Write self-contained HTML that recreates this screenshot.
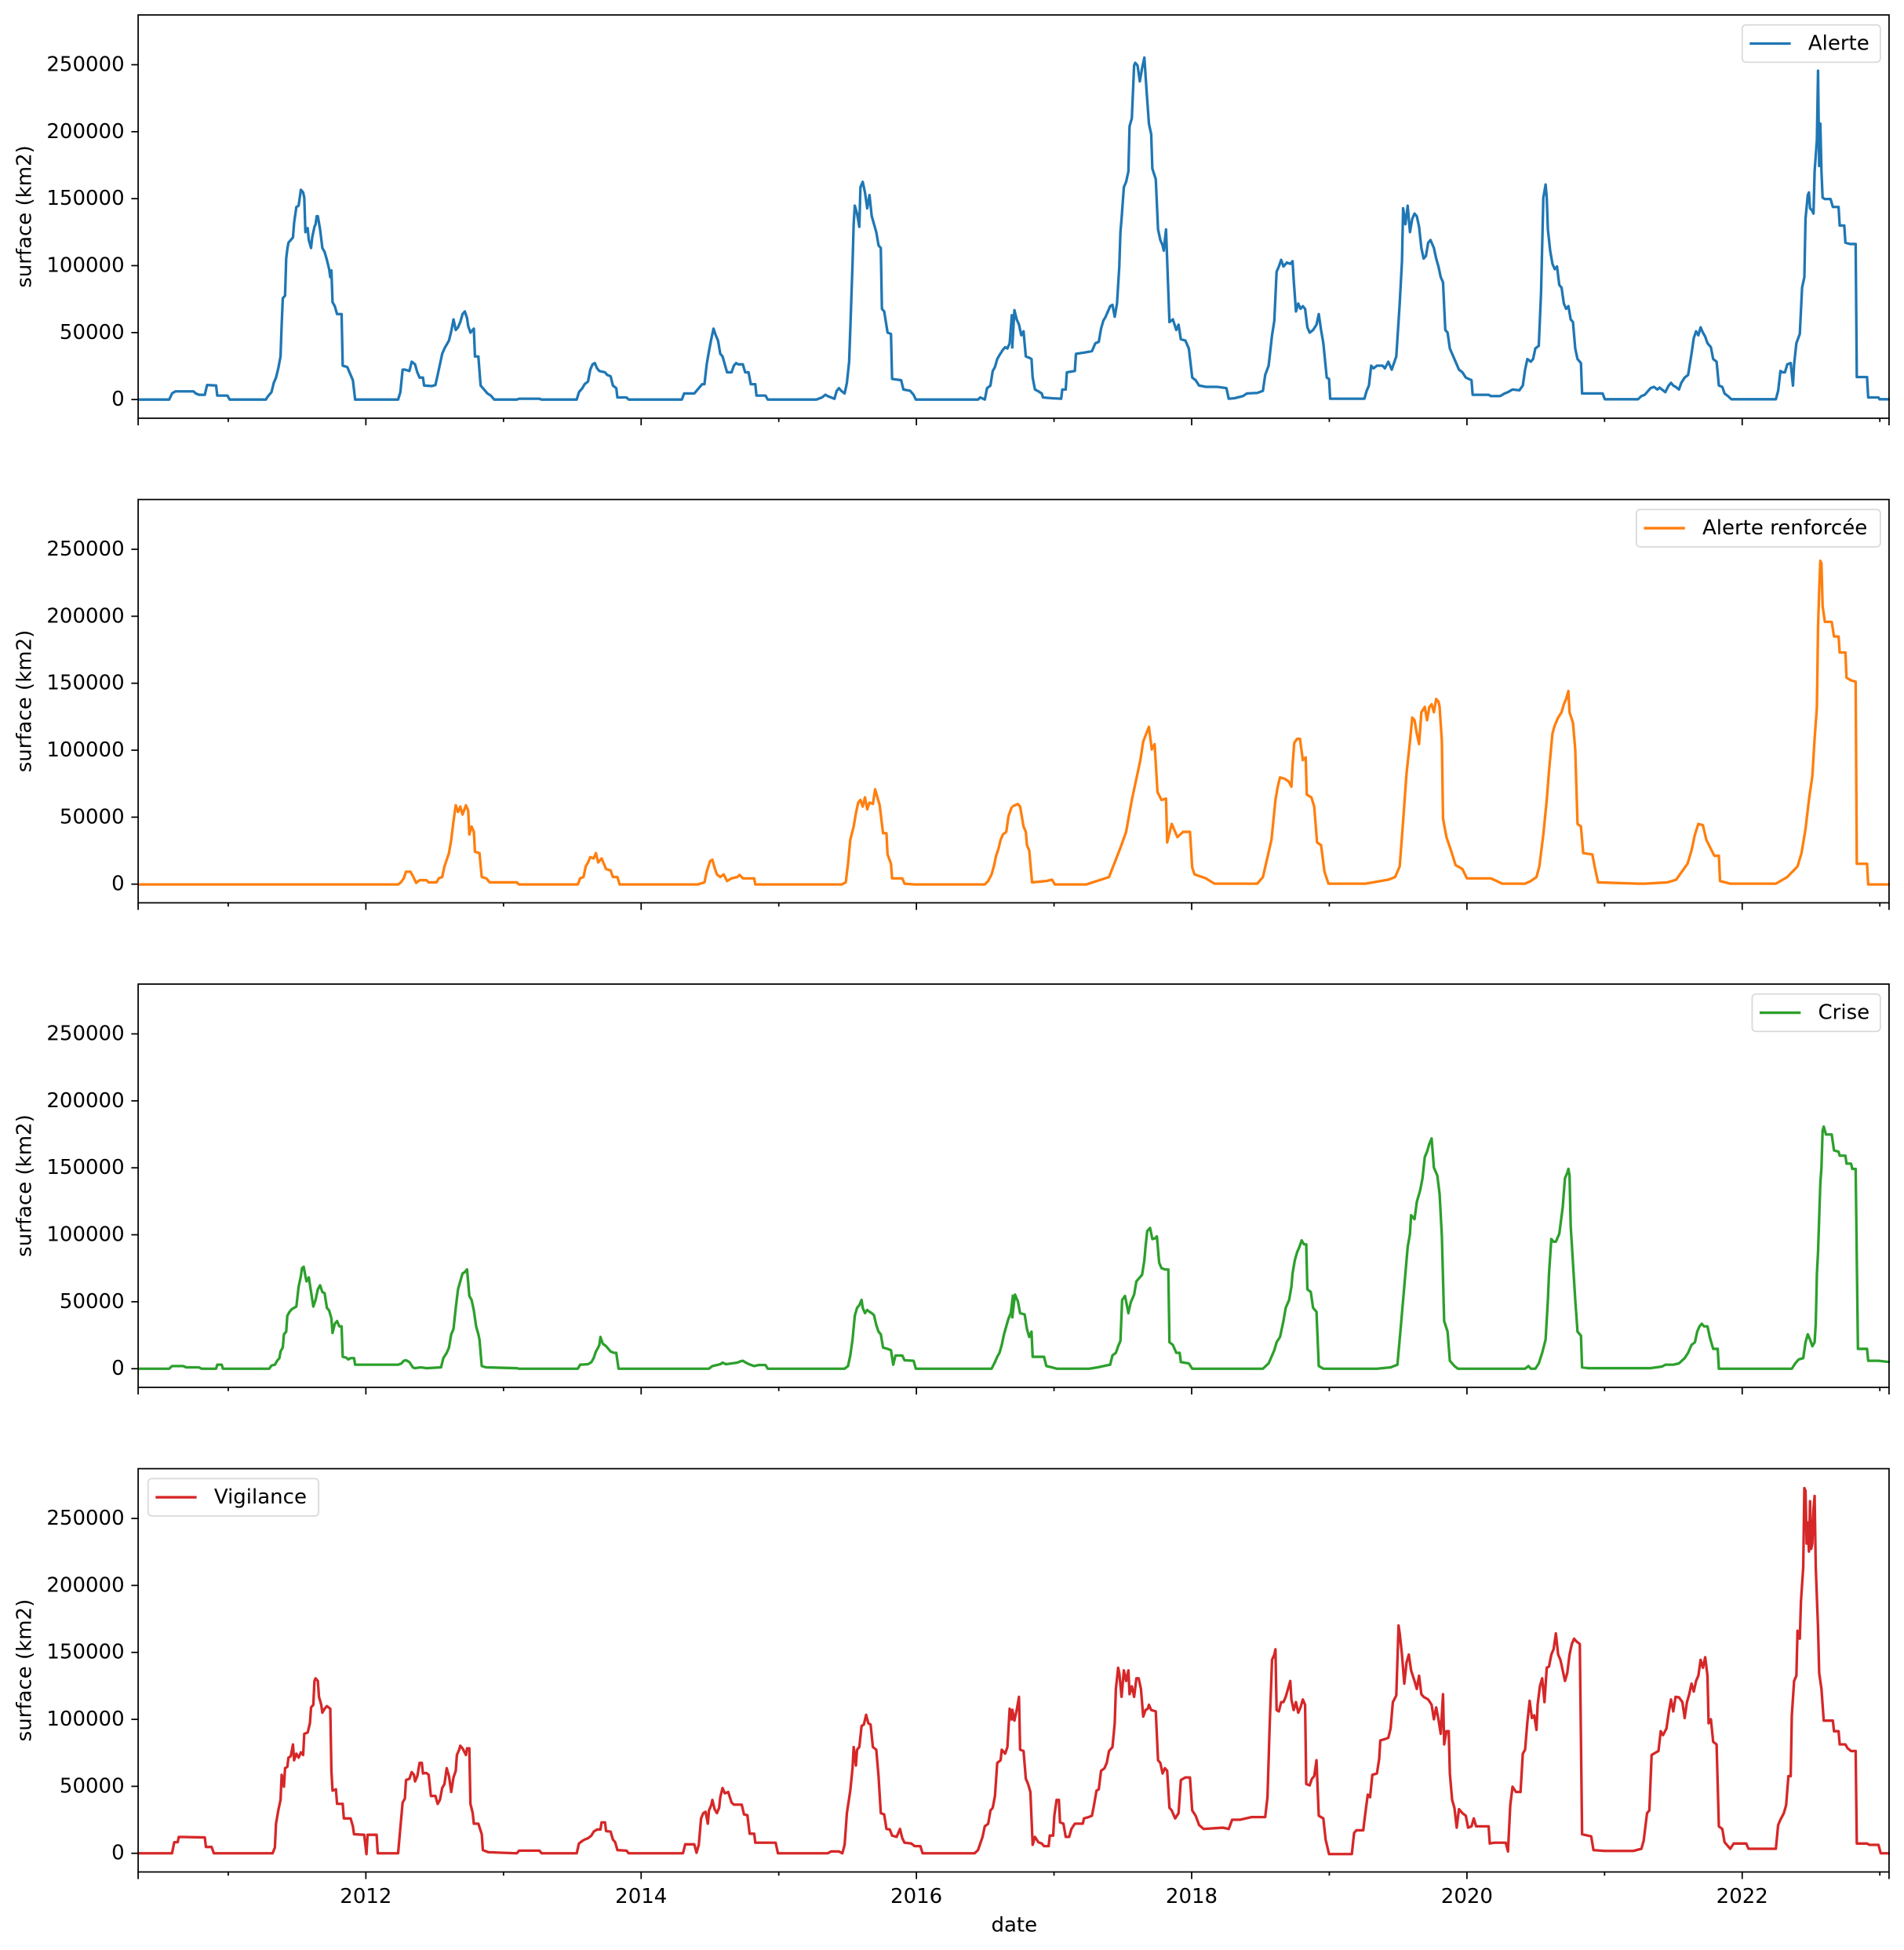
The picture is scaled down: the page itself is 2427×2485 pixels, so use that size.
<!DOCTYPE html>
<html><head><meta charset="utf-8"><style>
html,body{margin:0;padding:0;background:#fff;}
svg{display:block;}
text{font-family:"DejaVu Sans","Liberation Sans",sans-serif;font-size:16.4px;fill:#000;}
.s{fill:none;stroke-width:3.3;stroke-linejoin:round;vector-effect:non-scaling-stroke;}
.ax{fill:none;stroke:#000;stroke-width:1.1;}
.tk{stroke:#000;stroke-width:1.1;}
.lg{fill:#fff;fill-opacity:0.8;stroke:#d9d9d9;stroke-width:1.1;}
</style></head><body>
<svg width="2427" height="2485" viewBox="0 0 1530 1566.6" xmlns="http://www.w3.org/2000/svg">
<defs>
<g id="yax">
<line class="tk" x1="105.5" y1="321" x2="111" y2="321"/>
<line class="tk" x1="105.5" y1="267.2" x2="111" y2="267.2"/>
<line class="tk" x1="105.5" y1="213.4" x2="111" y2="213.4"/>
<line class="tk" x1="105.5" y1="159.6" x2="111" y2="159.6"/>
<line class="tk" x1="105.5" y1="105.8" x2="111" y2="105.8"/>
<line class="tk" x1="105.5" y1="52" x2="111" y2="52"/>
<g text-anchor="end" dominant-baseline="central">
<text x="100" y="321">0</text>
<text x="100" y="267.2">50000</text>
<text x="100" y="213.4">100000</text>
<text x="100" y="159.6">150000</text>
<text x="100" y="105.8">200000</text>
<text x="100" y="52">250000</text>
</g>
<text transform="translate(25,174) rotate(-90)" text-anchor="middle">surface (km2)</text>
<g>
<line class="tk" x1="111" y1="336" x2="111" y2="341.7"/>
<line class="tk" x1="294" y1="336" x2="294" y2="341.7"/>
<line class="tk" x1="515.2" y1="336" x2="515.2" y2="341.7"/>
<line class="tk" x1="736.4" y1="336" x2="736.4" y2="341.7"/>
<line class="tk" x1="957.6" y1="336" x2="957.6" y2="341.7"/>
<line class="tk" x1="1178.8" y1="336" x2="1178.8" y2="341.7"/>
<line class="tk" x1="1400" y1="336" x2="1400" y2="341.7"/>
<line class="tk" x1="183.4" y1="336" x2="183.4" y2="339"/>
<line class="tk" x1="404.6" y1="336" x2="404.6" y2="339"/>
<line class="tk" x1="625.8" y1="336" x2="625.8" y2="339"/>
<line class="tk" x1="847" y1="336" x2="847" y2="339"/>
<line class="tk" x1="1068.2" y1="336" x2="1068.2" y2="339"/>
<line class="tk" x1="1289.4" y1="336" x2="1289.4" y2="339"/>
<line class="tk" x1="1510.6" y1="336" x2="1510.6" y2="339"/>
<line class="tk" x1="1518" y1="336" x2="1518" y2="341.7"/>
</g>
</g>
</defs>

<!-- Panel 1 -->
<g transform="translate(0,0)">
<polyline class="s" stroke="#1f77b4" transform="matrix(0.4542 0 0 0.2125 106.42 10.1)" points="10,1463 65,1463 70,1440 76,1432 108,1432 112,1440 118,1445 128,1445 132,1408 148,1410 150,1448 168,1448 172,1463 236,1463 240,1450 246,1435 250,1400 254,1380 258,1345 262,1300 264,1180 266,1080 270,1070 272,930 274,895 276,870 280,860 284,850 286,795 290,735 294,730 296,700 298,670 302,680 304,700 306,830 310,815 312,860 316,890 318,850 322,810 324,800 326,770 328,770 332,820 336,890 340,905 344,935 348,970 350,1000 352,975 354,1095 358,1110 362,1140 370,1140 372,1335 380,1340 384,1360 390,1390 394,1463 470,1463 474,1435 478,1350 482,1350 490,1355 494,1320 500,1330 504,1360 508,1380 514,1380 516,1410 530,1412 536,1408 540,1370 544,1330 548,1290 552,1270 556,1255 560,1240 564,1205 568,1160 572,1200 576,1190 580,1170 584,1140 588,1130 592,1155 594,1185 598,1210 604,1195 606,1300 612,1300 616,1410 622,1425 628,1440 634,1448 640,1463 680,1463 684,1460 720,1460 724,1463 786,1463 790,1435 796,1420 800,1405 806,1395 810,1350 814,1330 818,1325 822,1345 826,1355 836,1360 840,1370 846,1375 850,1410 856,1420 858,1455 874,1455 878,1463 972,1463 976,1440 994,1440 1000,1425 1004,1415 1008,1405 1012,1405 1016,1330 1020,1280 1024,1235 1028,1195 1032,1220 1036,1240 1040,1290 1044,1300 1048,1330 1052,1360 1060,1360 1064,1335 1068,1325 1072,1330 1080,1330 1084,1360 1090,1360 1094,1405 1102,1405 1104,1448 1120,1448 1124,1463 1210,1463 1220,1455 1226,1445 1230,1450 1236,1455 1242,1460 1246,1430 1250,1420 1254,1430 1260,1440 1264,1400 1268,1320 1270,1200 1274,950 1276,800 1278,730 1282,760 1286,810 1288,660 1292,640 1296,680 1300,740 1304,690 1308,770 1312,800 1316,830 1320,880 1324,890 1326,1120 1330,1130 1336,1210 1342,1215 1344,1385 1360,1390 1364,1425 1376,1430 1382,1445 1386,1463 1496,1463 1500,1455 1508,1463 1512,1420 1518,1410 1522,1355 1526,1340 1530,1310 1534,1295 1540,1275 1544,1265 1548,1270 1552,1250 1556,1140"/>
<polyline class="s" stroke="#1f77b4" transform="matrix(0.458 0 0 0.2125 813.33 10.1)" points="0,1270 4,1125 8,1160 12,1180 16,1220 20,1205 24,1300 30,1305 34,1310 36,1380 40,1425 46,1432 52,1440 54,1455 70,1458 86,1460 88,1425 94,1425 96,1360 110,1355 112,1290 128,1285 140,1280 146,1250 152,1245 156,1195 160,1165 164,1150 168,1130 172,1110 176,1105 180,1150 184,1100 188,960 190,830 192,780 196,660 200,640 204,600 206,430 210,400 212,300 214,200 216,190 220,200 224,260 228,210 232,170 236,300 240,420 244,460 246,590 252,630 256,820 260,860 264,880 266,900 270,820 276,1170 282,1160 288,1200 292,1180 296,1235 304,1240 310,1270 316,1380 322,1390 328,1410 340,1415 360,1415 376,1420 380,1460 390,1458 405,1450 412,1440 430,1438 440,1430 444,1370 450,1335 456,1220 460,1165 464,980 468,960 472,935 476,960 482,945 488,950 492,940 494,1010 498,1130 502,1100 506,1120 510,1110 514,1120 518,1190 522,1210 528,1200 534,1180 538,1140 542,1200 546,1250 552,1380 556,1385 558,1460 618,1460 622,1430 626,1410 630,1335 634,1345 640,1335 650,1335 654,1345 660,1320 666,1350 670,1325 674,1300 680,1100 684,940 686,740 690,800 694,730 698,830 702,780 706,760 710,770 714,810 718,890 722,930 726,920 730,870 734,860 740,890 744,930 748,960 752,1000 756,1020 760,1200 764,1210 768,1270 772,1290 776,1310 780,1330 784,1350 790,1360 796,1380 806,1390 808,1445 836,1445 840,1450 856,1450 864,1440 870,1435 878,1425 890,1428 896,1410 900,1350 904,1310 910,1320 914,1310 918,1270 924,1260 928,1060 932,700 936,650 938,700 940,820 944,900 948,950 952,970 956,960 960,1030 964,1040 968,1100 972,1120 976,1110 980,1160 984,1170 988,1270 992,1310 998,1325 1000,1440 1036,1440 1040,1462 1098,1462 1104,1450 1110,1445 1120,1420 1126,1415 1132,1425 1136,1418 1140,1425 1146,1435 1152,1410 1156,1400 1160,1410 1164,1415 1170,1425 1174,1400 1180,1380 1186,1370 1192,1290 1196,1230 1200,1205 1204,1220 1208,1190 1212,1210 1216,1225 1220,1250 1226,1265 1230,1310 1236,1320 1240,1410 1246,1415 1250,1440 1256,1450 1262,1462 1340,1462 1344,1430 1348,1355 1352,1360 1356,1360 1360,1330 1366,1325 1370,1410 1372,1330 1376,1250 1382,1215 1386,1040 1390,1000 1392,780 1396,690 1398,680 1400,740 1404,750 1406,760 1408,600 1412,480 1414,220 1416,580 1418,420 1420,600 1422,700 1426,705 1436,705 1440,735 1450,735 1452,805 1460,805 1462,870 1470,875 1480,875 1482,1378 1500,1378 1502,1455 1520,1455 1522,1462 1540,1462"/>
<rect class="ax" x="111" y="12" width="1407" height="324"/>
<use href="#yax"/>
<rect class="lg" x="1400" y="20" width="111" height="30" rx="3"/>
<line x1="1406" y1="35" x2="1439" y2="35" stroke="#1f77b4" stroke-width="2.1"/>
<text x="1453" y="35" dominant-baseline="central">Alerte</text>
</g>

<!-- Panel 2 -->
<g transform="translate(0,389.3)">
<polyline class="s" stroke="#ff7f0e" transform="matrix(0.4542 0 0 0.2135 106.42 7.85)" points="10,1468 470,1468 475,1460 480,1445 484,1420 492,1420 497,1440 502,1462 508,1452 520,1452 524,1460 538,1460 542,1445 548,1440 552,1400 556,1375 560,1350 564,1300 568,1230 572,1170 576,1195 580,1175 584,1205 590,1170 594,1190 596,1280 600,1250 604,1270 606,1345 614,1350 618,1440 626,1445 632,1460 680,1460 684,1468 788,1468 792,1445 798,1440 802,1400 806,1385 810,1365 816,1370 820,1350 824,1385 830,1370 838,1410 846,1415 850,1440 858,1440 862,1468 1000,1468 1012,1460 1016,1420 1022,1380 1026,1375 1030,1405 1034,1430 1040,1440 1046,1430 1052,1455 1060,1445 1070,1440 1074,1432 1080,1445 1100,1445 1102,1468 1255,1468 1262,1460 1266,1390 1270,1300 1276,1250 1280,1200 1284,1160 1288,1150 1292,1175 1296,1140 1300,1185 1304,1160 1310,1165 1314,1110 1318,1140 1322,1170 1326,1240 1328,1275 1334,1275 1336,1355 1342,1390 1344,1445 1362,1445 1366,1465 1384,1468 1508,1468 1514,1455 1520,1430 1524,1400 1528,1360 1532,1335 1536,1300 1540,1280 1546,1270 1550,1210 1556,1175"/>
<polyline class="s" stroke="#ff7f0e" transform="matrix(0.458 0 0 0.2135 813.33 7.85)" points="0,1175 10,1165 14,1175 20,1250 24,1270 26,1320 30,1340 35,1460 60,1455 70,1450 75,1468 130,1468 170,1440 190,1330 200,1270 210,1150 220,1050 225,1000 230,930 240,875 245,960 250,940 255,1120 262,1150 270,1145 272,1310 280,1240 290,1290 300,1270 312,1270 316,1405 320,1430 340,1445 355,1465 430,1465 440,1440 455,1300 462,1150 466,1100 470,1065 478,1070 485,1080 490,1100 492,1020 495,935 500,920 505,920 510,1000 515,990 517,1130 525,1140 530,1175 535,1310 542,1320 548,1420 555,1465 620,1465 660,1450 672,1440 680,1400 686,1230 692,1050 698,930 702,840 706,850 710,900 714,940 718,820 724,800 728,850 732,800 736,790 740,820 744,770 748,780 750,800 754,930 756,1220 762,1290 770,1340 778,1395 790,1410 798,1445 840,1445 860,1465 900,1465 910,1455 920,1440 925,1400 932,1280 938,1150 942,1040 948,900 952,870 958,840 964,820 968,790 972,770 976,740 978,820 984,860 988,960 992,1240 998,1250 1002,1350 1018,1355 1022,1400 1028,1460 1100,1465 1110,1465 1150,1460 1165,1450 1175,1420 1185,1390 1192,1340 1198,1280 1204,1240 1212,1245 1218,1300 1225,1330 1232,1360 1240,1360 1242,1455 1260,1465 1340,1465 1360,1440 1378,1400 1385,1350 1392,1260 1398,1150 1404,1060 1408,920 1412,800 1414,500 1416,360 1418,250 1420,260 1422,420 1426,480 1438,480 1442,535 1450,535 1452,595 1462,595 1464,690 1472,700 1480,705 1482,1390 1500,1390 1502,1468 1540,1468"/>
<rect class="ax" x="111" y="12" width="1407" height="324"/>
<use href="#yax"/>
<rect class="lg" x="1315" y="20" width="196" height="30" rx="3"/>
<line x1="1321" y1="35" x2="1354" y2="35" stroke="#ff7f0e" stroke-width="2.1"/>
<text x="1368" y="35" dominant-baseline="central">Alerte renforcée</text>
</g>

<!-- Panel 3 -->
<g transform="translate(0,778.6)">
<polyline class="s" stroke="#2ca02c" transform="matrix(0.4542 0 0 0.2126 106.42 10.6)" points="10,1460 65,1460 70,1450 90,1450 95,1455 118,1455 122,1460 148,1460 150,1445 158,1445 160,1460 242,1460 246,1448 252,1445 256,1430 260,1420 262,1395 266,1380 268,1330 272,1320 274,1260 278,1245 282,1235 286,1230 290,1225 294,1150 298,1110 300,1080 303,1075 306,1110 308,1130 312,1115 316,1170 320,1225 324,1200 328,1160 332,1145 336,1170 340,1175 344,1230 348,1240 352,1270 354,1325 358,1290 362,1280 366,1300 370,1300 372,1415 378,1418 382,1425 386,1420 392,1420 394,1445 470,1445 476,1440 480,1430 484,1428 490,1435 496,1455 500,1458 510,1455 520,1458 546,1455 550,1420 556,1400 560,1380 564,1330 568,1310 572,1230 576,1160 580,1130 584,1100 588,1095 592,1085 596,1185 600,1200 604,1240 608,1300 612,1330 614,1350 618,1450 626,1455 680,1458 684,1460 788,1460 792,1445 806,1443 812,1435 816,1420 820,1395 824,1380 826,1370 828,1340 832,1365 838,1375 842,1385 846,1395 852,1400 856,1400 860,1460 1020,1460 1026,1450 1040,1443 1044,1437 1050,1443 1060,1440 1070,1437 1076,1432 1080,1430 1086,1438 1092,1444 1100,1450 1108,1446 1120,1446 1124,1460 1260,1460 1266,1450 1270,1410 1274,1350 1278,1260 1282,1230 1286,1220 1290,1200 1292,1230 1296,1250 1300,1238 1304,1245 1308,1250 1312,1258 1316,1295 1320,1320 1324,1330 1328,1380 1336,1385 1342,1390 1346,1445 1350,1410 1362,1410 1366,1428 1382,1430 1386,1460 1520,1460 1526,1435 1530,1415 1534,1400 1538,1370 1542,1330 1546,1300 1550,1270 1554,1250 1558,1180"/>
<polyline class="s" stroke="#2ca02c" transform="matrix(0.458 0 0 0.2126 813.33 10.6)" points="0,1270 5,1180 10,1205 14,1250 22,1255 26,1310 30,1340 34,1320 36,1415 56,1415 60,1450 70,1455 78,1460 135,1460 150,1455 165,1448 172,1445 176,1410 182,1400 186,1375 190,1355 193,1200 198,1185 204,1250 208,1210 214,1180 218,1130 224,1115 228,1105 232,1050 234,1000 237,940 242,928 246,970 250,968 254,960 258,1060 262,1080 268,1085 274,1085 276,1360 282,1370 288,1400 294,1400 296,1435 310,1440 316,1460 440,1460 450,1440 460,1390 464,1360 470,1340 476,1280 480,1230 486,1200 490,1150 492,1100 496,1050 500,1020 504,1000 508,975 512,990 516,990 518,1160 524,1170 528,1230 534,1245 538,1450 546,1460 640,1460 664,1455 676,1445 682,1300 686,1200 690,1100 694,1000 698,950 700,880 706,895 710,830 716,785 720,740 724,660 728,640 732,610 736,590 740,700 746,730 750,800 754,960 758,1280 764,1320 768,1430 776,1450 782,1460 900,1460 906,1450 910,1460 918,1460 924,1440 930,1400 936,1350 940,1200 942,1100 946,970 950,980 954,980 960,950 966,850 970,740 974,720 976,705 978,730 980,920 984,1060 988,1200 992,1320 998,1335 1000,1455 1010,1458 1120,1458 1130,1455 1140,1452 1146,1445 1160,1445 1170,1440 1180,1420 1186,1400 1192,1370 1198,1360 1202,1320 1206,1300 1210,1290 1214,1300 1220,1300 1224,1340 1228,1370 1230,1385 1238,1385 1240,1460 1368,1460 1374,1440 1380,1425 1388,1420 1392,1360 1396,1330 1400,1350 1404,1375 1408,1360 1410,1290 1412,1100 1414,1020 1418,760 1420,700 1422,560 1424,545 1428,575 1438,575 1442,635 1450,640 1452,655 1462,655 1464,685 1472,685 1474,705 1480,705 1484,1385 1500,1385 1502,1430 1520,1430 1540,1435"/>
<rect class="ax" x="111" y="12" width="1407" height="324"/>
<use href="#yax"/>
<rect class="lg" x="1408" y="20" width="103" height="30" rx="3"/>
<line x1="1414" y1="35" x2="1447" y2="35" stroke="#2ca02c" stroke-width="2.1"/>
<text x="1461" y="35" dominant-baseline="central">Crise</text>
</g>

<!-- Panel 4 -->
<g transform="translate(0,1167.9)">
<polyline class="s" stroke="#d62728" transform="matrix(0.4542 0 0 0.2123 106.42 12.74)" points="10,1452 70,1452 74,1410 80,1410 82,1390 128,1392 130,1428 140,1428 144,1452 248,1452 252,1430 254,1340 258,1290 262,1250 264,1155 268,1200 270,1130 274,1125 276,1090 280,1085 284,1040 286,1100 290,1075 294,1090 298,1070 302,1080 304,1000 310,995 314,960 316,900 320,890 322,800 324,790 328,800 330,860 334,890 336,920 340,905 344,895 350,905 352,1140 354,1215 360,1210 362,1265 372,1265 374,1320 386,1320 390,1350 392,1380 410,1382 414,1455 416,1382 432,1382 434,1452 470,1452 474,1355 478,1260 482,1245 484,1175 490,1170 494,1145 498,1155 500,1180 504,1160 508,1110 512,1110 514,1150 520,1148 524,1155 528,1235 536,1235 540,1265 544,1250 548,1205 552,1190 556,1130 560,1160 564,1220 568,1165 572,1140 574,1080 578,1060 580,1045 584,1055 590,1080 592,1055 596,1055 598,1265 602,1300 604,1340 612,1340 618,1380 620,1440 630,1448 680,1452 684,1442 720,1442 724,1452 786,1452 790,1415 796,1405 800,1400 806,1395 812,1385 816,1370 822,1362 828,1362 830,1335 836,1335 838,1368 846,1370 850,1400 854,1410 858,1440 874,1442 878,1452 974,1452 978,1418 994,1418 998,1450 1002,1420 1006,1320 1010,1300 1014,1295 1018,1340 1020,1290 1024,1270 1026,1250 1030,1285 1034,1300 1038,1280 1040,1240 1044,1205 1048,1225 1054,1220 1060,1260 1064,1268 1078,1268 1082,1305 1088,1308 1092,1378 1100,1378 1102,1412 1138,1412 1142,1452 1230,1452 1236,1445 1250,1445 1256,1452 1260,1420 1264,1300 1270,1215 1274,1130 1276,1050 1280,1120 1282,1060 1286,1050 1290,970 1294,965 1298,928 1302,960 1306,965 1310,1050 1316,1060 1320,1160 1324,1300 1330,1305 1334,1360 1340,1362 1344,1385 1352,1390 1358,1360 1362,1395 1366,1412 1378,1415 1384,1425 1394,1425 1398,1452 1490,1452 1496,1440 1500,1415 1504,1390 1508,1350 1514,1340 1518,1290 1522,1280 1526,1235 1530,1110 1536,1100 1538,1060 1544,1075 1548,1050 1552,905 1556,950"/>
<polyline class="s" stroke="#d62728" transform="matrix(0.458 0 0 0.2123 813.33 12.74)" points="0,905 4,950 8,910 12,860 14,1060 20,1065 24,1170 28,1190 32,1220 36,1420 40,1390 46,1410 52,1415 56,1425 64,1425 66,1385 72,1385 74,1310 78,1250 82,1250 84,1335 90,1340 94,1390 100,1390 104,1360 110,1340 124,1340 126,1320 134,1315 140,1310 144,1265 148,1215 152,1210 156,1140 162,1130 166,1110 170,1065 176,1050 180,960 182,830 186,750 188,770 192,860 196,760 200,800 204,760 206,850 210,820 214,860 218,790 222,790 226,830 230,935 234,910 238,905 240,890 244,910 252,915 256,1100 260,1110 264,1150 268,1130 272,1140 276,1280 280,1290 286,1320 292,1300 296,1175 304,1165 312,1165 316,1290 322,1310 328,1345 336,1360 370,1355 380,1360 386,1325 400,1325 410,1320 420,1315 444,1315 448,1240 452,960 456,720 460,700 462,680 464,910 468,915 472,880 476,880 480,860 484,830 488,800 490,870 494,910 498,880 502,920 506,900 510,870 514,890 516,1190 522,1195 526,1170 530,1160 534,1100 538,1310 546,1320 550,1400 556,1455 596,1455 600,1375 604,1365 616,1365 620,1295 624,1230 628,1240 632,1155 640,1150 644,1095 646,1025 654,1020 660,1015 664,980 668,880 674,855 678,590 680,620 684,700 688,810 692,730 696,700 700,760 706,800 710,830 714,780 718,850 722,860 730,870 736,890 740,945 744,900 748,945 752,1000 756,850 758,1040 762,990 766,990 768,1150 772,1250 776,1280 780,1355 784,1285 790,1300 796,1310 800,1355 806,1350 810,1320 814,1350 836,1350 838,1415 846,1412 866,1412 870,1445 874,1270 878,1200 884,1220 892,1220 896,1075 900,1060 904,955 908,875 912,940 916,930 920,985 922,890 926,820 930,790 934,880 938,750 942,745 946,700 950,680 954,620 958,700 962,720 966,760 970,800 974,770 978,700 982,660 986,640 990,650 996,660 1000,1380 1016,1388 1020,1440 1040,1443 1090,1443 1104,1435 1108,1405 1114,1300 1118,1290 1122,1080 1130,1070 1134,1065 1138,990 1142,1005 1148,980 1152,920 1156,870 1160,915 1164,860 1170,862 1176,880 1180,940 1184,880 1188,850 1192,810 1196,840 1200,800 1204,780 1208,720 1212,750 1216,710 1220,780 1222,960 1226,945 1230,1030 1236,1040 1240,1350 1246,1360 1250,1410 1260,1435 1266,1415 1288,1415 1292,1435 1340,1435 1344,1345 1348,1325 1354,1300 1358,1270 1362,1160 1366,1160 1368,930 1372,800 1376,780 1378,610 1382,640 1384,500 1388,370 1390,70 1392,80 1394,280 1396,200 1398,310 1400,120 1402,300 1404,280 1406,150 1408,100 1410,370 1414,600 1416,770 1420,830 1424,950 1440,950 1442,990 1450,990 1452,1040 1462,1040 1466,1055 1472,1065 1480,1065 1482,1415 1500,1415 1504,1420 1520,1420 1524,1452 1540,1452"/>
<rect class="ax" x="111" y="12" width="1407" height="324"/>
<use href="#yax"/>
<rect class="lg" x="119" y="20" width="137" height="30" rx="3"/>
<line x1="125" y1="35" x2="158" y2="35" stroke="#d62728" stroke-width="2.1"/>
<text x="172" y="35" dominant-baseline="central">Vigilance</text>
<g text-anchor="middle">
<text x="294" y="361">2012</text>
<text x="515.2" y="361">2014</text>
<text x="736.4" y="361">2016</text>
<text x="957.6" y="361">2018</text>
<text x="1178.8" y="361">2020</text>
<text x="1400" y="361">2022</text>
</g>
<text x="815" y="384" text-anchor="middle">date</text>
</g>
</svg>
</body></html>
